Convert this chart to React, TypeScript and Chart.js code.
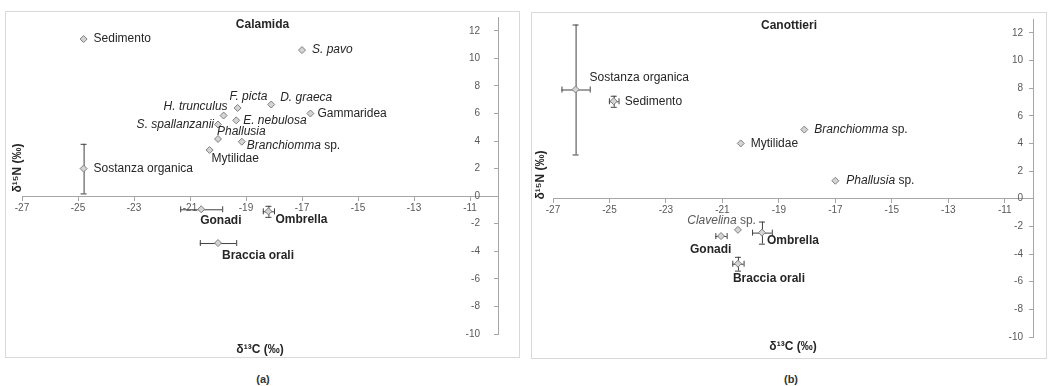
import React, { useEffect, useRef } from 'react';
import { Chart, registerables } from 'chart.js';
Chart.register(...registerables);

// ---- axes ----
const xTickValues = [-27, -25, -23, -21, -19, -17, -15, -13, -11];
const yTickValues = [-10, -8, -6, -4, -2, 0, 2, 4, 6, 8, 10, 12];
const xMin = -27;
const xMax = -10;
const yMin = -10;
const yMax = 13;

// ---- (a) Calamida ----
const calamidaNames = ['Sedimento', 'S. pavo', 'F. picta', 'D. graeca', 'Gammaridea', 'H. trunculus', 'E. nebulosa', 'S. spallanzanii', 'Phallusia', 'Branchiomma sp.', 'Mytilidae', 'Sostanza organica', 'Gonadi', 'Ombrella', 'Braccia orali'];
const calamidaC = [-24.8, -17.0, -19.3, -18.1, -16.7, -19.8, -19.35, -20.0, -20.0, -19.15, -20.3, -24.8, -20.6, -18.2, -20.0];
const calamidaN = [11.4, 10.6, 6.4, 6.65, 6.0, 5.85, 5.5, 5.2, 4.15, 3.95, 3.35, 2.0, -0.95, -1.1, -3.4];
const calamidaCErr = [0, 0, 0, 0, 0, 0, 0, 0, 0, 0, 0, 0, 0.75, 0.2, 0.65];
const calamidaNErr = [0, 0, 0, 0, 0, 0, 0, 0, 0, 0, 0, 1.8, 0, 0.4, 0];

// ---- (b) Canottieri ----
const canottieriNames = ['Sostanza organica', 'Sedimento', 'Mytilidae', 'Branchiomma sp.', 'Phallusia sp.', 'Clavelina sp.', 'Gonadi', 'Ombrella', 'Braccia orali'];
const canottieriC = [-26.2, -24.85, -20.35, -18.1, -17.0, -20.45, -21.05, -19.6, -20.45];
const canottieriN = [7.9, 7.05, 4.0, 5.0, 1.3, -2.25, -2.7, -2.45, -4.7];
const canottieriCErr = [0.5, 0.17, 0, 0, 0, 0, 0.2, 0.35, 0.2];
const canottieriNErr = [4.7, 0.4, 0, 0, 0, 0, 0, 0.8, 0.5];

// ---- label styling / placement (style only) ----
const calamidaStyles = ['n', 'i', 'i', 'i', 'n', 'i', 'i', 'i', 'i', 'i', 'n', 'n', 'b', 'b', 'b'];
const calamidaLabelPos: [number, number, string][] = [
  [10, 0, 'left'], [10, 0, 'left'], [-8, -11, 'left'], [9, -7, 'left'], [7, 0, 'left'],
  [4, -9, 'right'], [7, 0, 'left'], [-4, 0, 'right'], [-1, -7, 'left'], [5, 4, 'left'],
  [2, 9, 'left'], [10, 0, 'left'], [-1, 11, 'left'], [7, 8, 'left'], [4, 13, 'left'],
];
const canottieriStyles = ['n', 'n', 'n', 'i', 'i', 'i', 'b', 'b', 'b'];
const canottieriLabelPos: [number, number, string][] = [
  [14, -12, 'left'], [11, 0, 'left'], [10, 0, 'left'], [10, 0, 'left'], [11, 0, 'left'],
  [18, -9, 'right'], [-31, 14, 'left'], [5, 8, 'left'], [-5, 15, 'left'],
];

const FONT = '"Liberation Sans", Arial, Helvetica, sans-serif';
const AXIS = '#a6a6a6';
const TICK = '#595959';
const TEXT = '#262626';

type PanelDef = {
  title: string;
  names: string[];
  c: number[];
  n: number[];
  cErr: number[];
  nErr: number[];
  styles: string[];
  labelPos: [number, number, string][];
  width: number;
  height: number;
  padding: { left: number; right: number; top: number; bottom: number };
  titleY: number;
  xTitleDy: number;
  yTitleX: number;
  yTitleY: number;
  yLabelGap: number;
};

function drawRich(ctx: CanvasRenderingContext2D, name: string, style: string, x: number, y: number, align: string, color: string) {
  const base = '12px ' + FONT;
  let segs: [string, string][];
  if (style === 'b') segs = [[name, 'bold ' + base]];
  else if (style === 'i') {
    if (name.endsWith(' sp.')) segs = [[name.slice(0, -4), 'italic ' + base], [' sp.', base]];
    else segs = [[name, 'italic ' + base]];
  } else segs = [[name, base]];
  const widths = segs.map(([t, f]) => { ctx.font = f; return ctx.measureText(t).width; });
  const total = widths.reduce((a, b) => a + b, 0);
  let sx = align === 'right' ? x - total : align === 'center' ? x - total / 2 : x;
  ctx.textBaseline = 'middle';
  ctx.textAlign = 'left';
  ctx.fillStyle = color;
  segs.forEach(([t, f], i) => {
    ctx.font = f;
    ctx.fillText(t, sx, y);
    sx += widths[i];
  });
}

function makePlugin(p: PanelDef) {
  return {
    id: 'annot',
    beforeDatasetsDraw(chart: any) {
      const ctx = chart.ctx as CanvasRenderingContext2D;
      const xs = chart.scales.x, ys = chart.scales.y;
      ctx.save();
      ctx.strokeStyle = '#404040';
      ctx.lineWidth = 1;
      const cap = 3;
      p.c.forEach((cv, i) => {
        const px = xs.getPixelForValue(cv);
        const py = ys.getPixelForValue(p.n[i]);
        if (p.cErr[i] > 0) {
          const x1 = xs.getPixelForValue(cv - p.cErr[i]);
          const x2 = xs.getPixelForValue(cv + p.cErr[i]);
          ctx.beginPath();
          ctx.moveTo(x1, py + 0.5); ctx.lineTo(x2, py + 0.5);
          ctx.moveTo(x1 + 0.5, py - cap); ctx.lineTo(x1 + 0.5, py + cap);
          ctx.moveTo(x2 + 0.5, py - cap); ctx.lineTo(x2 + 0.5, py + cap);
          ctx.stroke();
        }
        if (p.nErr[i] > 0) {
          const y1 = ys.getPixelForValue(p.n[i] - p.nErr[i]);
          const y2 = ys.getPixelForValue(p.n[i] + p.nErr[i]);
          ctx.beginPath();
          ctx.moveTo(px + 0.5, y1); ctx.lineTo(px + 0.5, y2);
          ctx.moveTo(px - cap, y1 + 0.5); ctx.lineTo(px + cap, y1 + 0.5);
          ctx.moveTo(px - cap, y2 + 0.5); ctx.lineTo(px + cap, y2 + 0.5);
          ctx.stroke();
        }
      });
      ctx.restore();
    },
    afterDatasetsDraw(chart: any) {
      const ctx = chart.ctx as CanvasRenderingContext2D;
      const xs = chart.scales.x, ys = chart.scales.y;
      const area = chart.chartArea;
      ctx.save();
      // y tick labels, placed from the y scale's own ticks, left of the crossing axis
      const axisX = xs.getPixelForValue(xMax);
      ctx.font = '10px ' + FONT;
      ctx.fillStyle = TICK;
      ctx.textAlign = 'right';
      ctx.textBaseline = 'middle';
      ys.ticks.forEach((t: any) => {
        ctx.fillText(String(t.value), axisX - p.yLabelGap, ys.getPixelForValue(t.value));
      });
      // point labels
      p.names.forEach((name, i) => {
        const px = xs.getPixelForValue(p.c[i]);
        const py = ys.getPixelForValue(p.n[i]);
        const [dx, dy, align] = p.labelPos[i];
        const color = name.startsWith('Clavelina') ? '#595959' : TEXT;
        drawRich(ctx, name, p.styles[i], px + dx, py + dy, align, color);
      });
      // panel title
      ctx.font = 'bold 12px ' + FONT;
      ctx.fillStyle = TEXT;
      ctx.textAlign = 'center';
      ctx.textBaseline = 'middle';
      ctx.fillText(p.title, chart.width / 2, p.titleY);
      // x title
      ctx.fillText('δ¹³C (‰)', (area.left + area.right) / 2, area.bottom + p.xTitleDy);
      // y title
      ctx.translate(p.yTitleX, p.yTitleY);
      ctx.rotate(-Math.PI / 2);
      ctx.fillText('δ¹⁵N (‰)', 0, 0);
      ctx.restore();
    },
  };
}

function Panel({ def }: { def: PanelDef }) {
  const ref = useRef<HTMLCanvasElement | null>(null);
  useEffect(() => {
    if (!ref.current) return;
    const data = def.c.map((cv, i) => ({ x: cv, y: def.n[i] }));
    const chart = new Chart(ref.current, {
      type: 'scatter',
      data: {
        datasets: [{
          data,
          pointStyle: 'rectRot',
          pointRadius: 3.5,
          pointBackgroundColor: '#d4d4d4',
          pointBorderColor: '#7f7f7f',
          pointBorderWidth: 1,
        }],
      },
      options: {
        animation: false,
        responsive: false,
        devicePixelRatio: 1,
        layout: { padding: def.padding },
        plugins: { legend: { display: false }, tooltip: { enabled: false }, title: { display: false } },
        scales: {
          x: {
            type: 'linear',
            min: xMin,
            max: xMax,
            position: { y: 0 } as any,
            afterBuildTicks: (s: any) => { s.ticks = xTickValues.map((v) => ({ value: v })); },
            grid: { drawOnChartArea: false, drawTicks: true, tickLength: 4, color: AXIS },
            border: { color: AXIS, width: 1 },
            ticks: { font: { size: 10, family: FONT }, color: TICK, padding: 2, maxRotation: 0, autoSkip: false },
          },
          y: {
            type: 'linear',
            min: yMin,
            max: yMax,
            position: { x: xMax } as any,
            afterBuildTicks: (s: any) => { s.ticks = yTickValues.map((v) => ({ value: v })); },
            grid: { drawOnChartArea: false, drawTicks: true, tickLength: 4, color: AXIS },
            border: { color: AXIS, width: 1 },
            ticks: { display: false },
          },
        },
      },
      plugins: [makePlugin(def)],
    } as any);
    return () => chart.destroy();
  }, [def]);
  return <canvas ref={ref} width={def.width} height={def.height} style={{ display: 'block' }} />;
}

const panelA: PanelDef = {
  title: 'Calamida',
  names: calamidaNames, c: calamidaC, n: calamidaN, cErr: calamidaCErr, nErr: calamidaNErr,
  styles: calamidaStyles, labelPos: calamidaLabelPos,
  width: 513, height: 345,
  padding: { left: 16, right: 21, top: 4, bottom: 23 },
  titleY: 13, xTitleDy: 16, yTitleX: 12, yTitleY: 156, yLabelGap: 18,
};

const panelB: PanelDef = {
  title: 'Canottieri',
  names: canottieriNames, c: canottieriC, n: canottieriN, cErr: canottieriCErr, nErr: canottieriNErr,
  styles: canottieriStyles, labelPos: canottieriLabelPos,
  width: 514, height: 345,
  padding: { left: 21, right: 13, top: 6, bottom: 21 },
  titleY: 13, xTitleDy: 10, yTitleX: 9, yTitleY: 162, yLabelGap: 10,
};

export default function App() {
  const box = (left: number, top: number, w: number, h: number): React.CSSProperties => ({
    position: 'absolute', left, top, width: w, height: h, border: '1px solid #d9d9d9', boxSizing: 'border-box', background: '#fff',
  });
  const cap = (x: number): React.CSSProperties => ({
    position: 'absolute', left: x - 20, top: 373, width: 40, textAlign: 'center', font: 'bold 11px ' + FONT, color: '#333',
  });
  return (
    <div style={{ position: 'absolute', left: 0, top: 0, width: 1048, height: 386, background: '#fff', overflow: 'hidden' }}>
      <div style={box(5, 11, 515, 347)}><Panel def={panelA} /></div>
      <div style={box(531, 12, 516, 347)}><Panel def={panelB} /></div>
      <div style={cap(263)}>(a)</div>
      <div style={cap(791)}>(b)</div>
    </div>
  );
}
